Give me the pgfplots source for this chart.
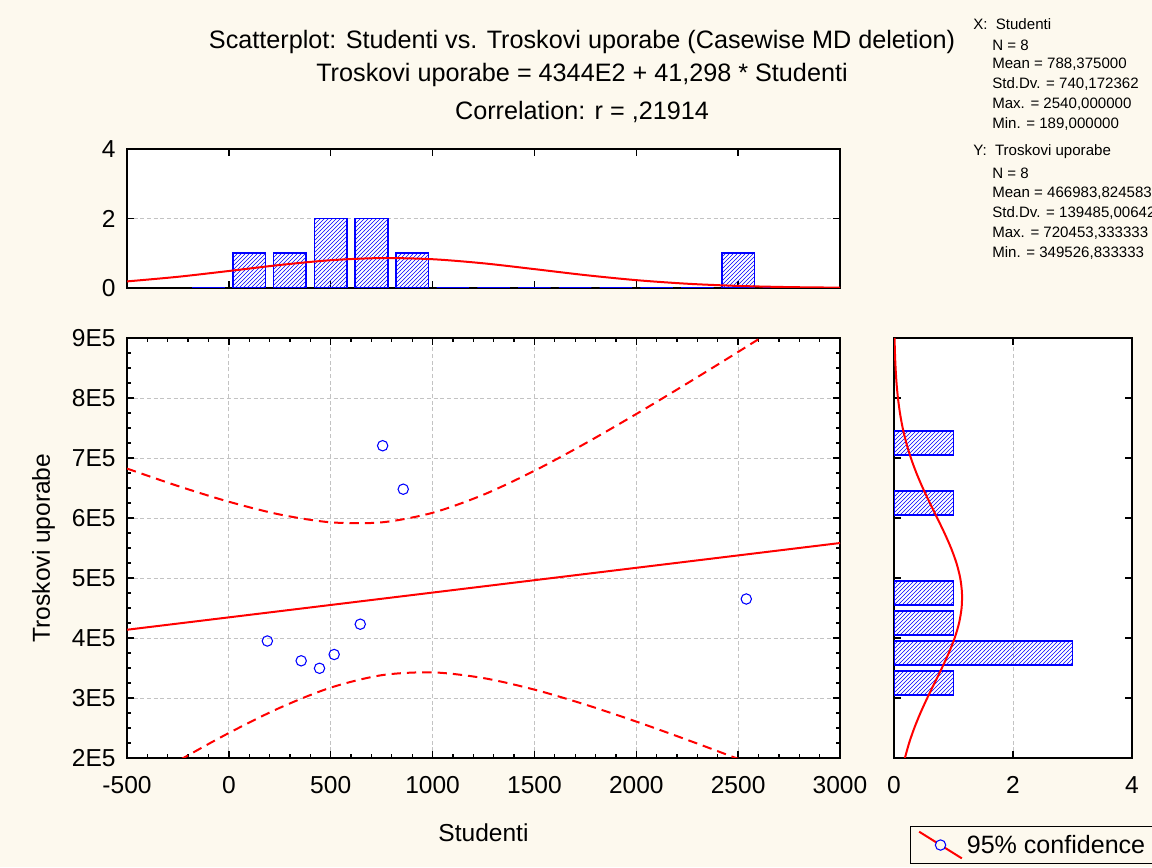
\documentclass[border=0pt]{standalone}
\usepackage{fontspec}
\setmainfont{Liberation Sans}
\usepackage{pgfplots}
\pgfplotsset{compat=1.18}
\usetikzlibrary{patterns}
\definecolor{bgcream}{RGB}{253,249,238}
\definecolor{gridgray}{RGB}{195,195,195}
\begin{document}
\begin{tikzpicture}[font=\fontsize{18.4}{21}\selectfont]
\fill[bgcream] (0,0) rectangle (864pt,650.25pt);
\useasboundingbox (0,0) rectangle (864pt,650.25pt);
\pgfplotsset{
  base/.style={scale only axis, anchor=south west,
    axis background/.style={fill=white},
    axis line style={line width=1.5pt},
    tick style={black, line width=1pt},
    major tick length=5pt, minor tick length=3pt,
    tick align=inside,
    /pgf/number format/assume math mode=true,
    grid style={densely dashed, gridgray, line width=0.6pt},
    scaled ticks=false,
    xticklabel style={yshift=-10.5pt},
    yticklabel style={xshift=-5pt}},
}
% ---------- top histogram ----------
\begin{axis}[base, at={(95.25pt,434.25pt)}, width=534.75pt, height=104.25pt,
  xmin=-500, xmax=3000, ymin=0, ymax=4,
  xtick={0,500,1000,1500,2000,2500}, xticklabels={},
  ytick={0,2,4}, ymajorgrids]
\addplot[ybar, bar width=160, bar shift=0pt, draw=blue, line width=1.2pt,
  pattern=north east lines, pattern color=blue] coordinates {
  (-100,0) (100,1) (300,1) (500,2) (700,2) (900,1) (1100,0) (1300,0)
  (1500,0) (1700,0) (1900,0) (2100,0) (2300,0) (2500,1) (2700,0)};
\addplot[red, line width=1.5pt, smooth] coordinates {
  (-500,0.1896) (-250,0.3224) (0,0.4891) (250,0.6619) (500,0.7994)
  (750,0.8612) (1000,0.8279) (1250,0.7100) (1500,0.5432) (1750,0.3708)
  (2000,0.2259) (2250,0.1227) (2500,0.0595) (2750,0.0257) (3000,0.0099)};
\end{axis}
% ---------- main scatterplot ----------
\begin{axis}[base, at={(95.25pt,81.75pt)}, width=534.75pt, height=315pt,
  xmin=-500, xmax=3000, ymin=200000, ymax=900000,
  xtick={-500,0,500,1000,1500,2000,2500,3000},
  xticklabels={-500,0,500,1000,1500,2000,2500,3000},
  ytick={200000,300000,400000,500000,600000,700000,800000,900000},
  yticklabels={2E5,3E5,4E5,5E5,6E5,7E5,8E5,9E5},
  minor x tick num=4, minor y tick num=3,
  grid=major,
  xlabel={Studenti}, ylabel={Troskovi uporabe},
  xlabel style={at={(axis description cs:0.5,-0.178)}, anchor=center},
  ylabel style={at={(axis description cs:-0.117,0.5)}, anchor=center},
  legend style={at={(1.0975,-0.162)}, anchor=north west, draw=black,
    line width=1pt, fill=bgcream, inner xsep=6pt, inner ysep=3pt,
    font=\fontsize{18.8}{22}\selectfont,
    nodes={inner xsep=3pt}},
  legend cell align=left]
\addlegendimage{legend image code/.code={
  \draw[red, line width=1.5pt] (0pt,10pt) -- (32pt,-10pt);
  \draw[blue, line width=0.8pt, fill=bgcream] (16pt,0pt) circle (3.9pt);}}
\addlegendentry{95\% confidence}
\addplot[red, line width=1.5pt] coordinates {(-500,413751) (3000,558294)};
\addplot[red, line width=1.5pt, smooth, dash pattern=on 7pt off 4.5pt] coordinates {
  (-500,682407) (-250,653316) (0,627124) (250,605821) (500,592814)
  (750,592744) (1000,608679) (1250,638870) (1500,678715) (1750,724323)
  (2000,773318) (2250,824390) (2500,876785) (2750,930064) (3000,983967)};
\addplot[red, line width=1.5pt, smooth, dash pattern=on 7pt off 4.5pt] coordinates {
  (-500,145095) (-250,194834) (0,241676) (250,283629) (500,317284)
  (750,338004) (1000,342717) (1250,333176) (1500,313979) (1750,289021)
  (2000,260674) (2250,230252) (2500,198505) (2750,165876) (3000,132621)};
\addplot[only marks, mark=o, mark size=3.9pt, blue, mark options={line width=0.8pt}] coordinates {
  (189,395000) (355,362000) (445,349527) (517,372500) (645,423000)
  (755,720453) (856,648000) (2540,465000)};
\end{axis}
% ---------- right histogram ----------
\begin{axis}[base, at={(670.5pt,81.75pt)}, width=178.5pt, height=315pt,
  xmin=0, xmax=4, ymin=200000, ymax=900000,
  xtick={0,2,4}, xmajorgrids,
  ytick={300000,400000,500000,600000,700000,800000}, yticklabels={}]
\addplot[xbar, bar width=40000, bar shift=0pt, draw=blue, line width=1.2pt,
  pattern=north east lines, pattern color=blue] coordinates {
  (1,325000) (3,375000) (1,425000) (1,475000) (1,625000) (1,725000)};
\addplot[red, line width=1.5pt, smooth] coordinates {
  (0.1832,200000) (0.2540,225000) (0.3412,250000) (0.4437,275000)
  (0.5588,300000) (0.6815,325000) (0.8049,350000) (0.9205,375000)
  (1.0195,400000) (1.0934,425000) (1.1357,450000) (1.1422,475000)
  (1.1125,500000) (1.0493,525000) (0.9584,550000) (0.8477,575000)
  (0.7261,600000) (0.6023,625000) (0.4838,650000) (0.3763,675000)
  (0.2834,700000) (0.2068,725000) (0.1460,750000) (0.0999,775000)
  (0.0662,800000) (0.0424,825000) (0.0264,850000) (0.0159,875000)
  (0.0092,900000)};
\end{axis}
% ---------- titles ----------
\begin{scope}[every node/.style={font=\fontsize{18.9}{22}\selectfont}]
\node at (436.5pt,618.75pt) {Scatterplot: Studenti vs. Troskovi uporabe (Casewise MD deletion)};
\node at (436.5pt,594pt) {Troskovi uporabe = 4344E2 + 41,298 * Studenti};
\node at (436.5pt,566.25pt) {Correlation: r = ,21914};
\end{scope}
% ---------- statistics ----------
\begin{scope}[every node/.style={anchor=west, inner sep=0pt, font=\fontsize{11.3}{13}\selectfont}]
\node at (729.75pt,632.25pt) {X:\ \ Studenti};
\node at (744pt,616.5pt) {N = 8};
\node at (744pt,602.25pt) {Mean = 788,375000};
\node at (744pt,587.25pt) {Std.Dv. = 740,172362};
\node at (744pt,572.25pt) {Max. = 2540,000000};
\node at (744pt,557.25pt) {Min. = 189,000000};
\node at (729.75pt,536.25pt) {Y:\ \ Troskovi uporabe};
\node at (744pt,520.5pt) {N = 8};
\node at (744pt,505.5pt) {Mean = 466983,824583};
\node at (744pt,490.5pt) {Std.Dv. = 139485,006421};
\node at (744pt,475.5pt) {Max. = 720453,333333};
\node at (744pt,460.5pt) {Min. = 349526,833333};
\end{scope}
\end{tikzpicture}
\end{document}
